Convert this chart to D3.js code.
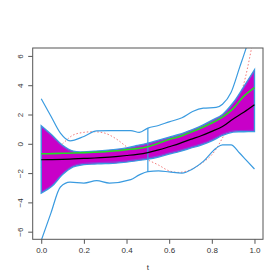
<!DOCTYPE html>
<html>
<head>
<meta charset="utf-8">
<script src="https://cdn.jsdelivr.net/npm/d3@7"></script>
<style>
  body { margin: 0; background: #fff; }
  text { font-family: "Liberation Sans", Arial, sans-serif; fill: #333; }
</style>
</head>
<body>
<div id="chart"></div>
<script>
// grid for the smooth curves
var tGrid = [0, 0.05, 0.1, 0.15, 0.2, 0.25, 0.3, 0.35, 0.4, 0.45, 0.5,
             0.55, 0.6, 0.65, 0.7, 0.75, 0.8, 0.85, 0.9, 0.95, 1.0];

var truth = [-1.6, -0.7, 0.0, 0.6, 0.78, 0.82, 0.72, 0.35, -0.2, -0.7, -1.1,
             -1.45, -1.85, -1.95, -1.77, -1.35, -0.75, 0.4, 2.0, 4.1, 7.6];

var bandUpper = [1.23, 0.6, -0.1, -0.5, -0.55, -0.5, -0.45, -0.38, -0.28, -0.12, 0.05,
                 0.25, 0.45, 0.65, 0.92, 1.22, 1.6, 2.0, 2.8, 3.9, 5.05];
var bandLower = [-3.36, -2.9, -2.1, -1.58, -1.42, -1.38, -1.35, -1.32, -1.25, -1.15, -1.05,
                 -0.9, -0.7, -0.52, -0.3, -0.08, 0.2, 0.58, 0.8, 0.82, 0.84];

var meanGreen = [-0.68, -0.67, -0.65, -0.63, -0.6, -0.58, -0.54, -0.48, -0.4, -0.33, -0.2,
                 0.03, 0.3, 0.5, 0.78, 1.08, 1.42, 1.82, 2.4, 3.25, 3.84];
var meanBlack = [-1.09, -1.08, -1.06, -1.03, -1.0, -0.97, -0.93, -0.87, -0.8, -0.72, -0.6,
                 -0.42, -0.2, 0.03, 0.3, 0.55, 0.85, 1.18, 1.7, 2.15, 2.66];

// outer envelope, read on its own grid
var outerT = [0, 0.045, 0.09, 0.135, 0.2, 0.26, 0.32, 0.42, 0.46, 0.5, 0.55,
              0.6, 0.66, 0.71, 0.76, 0.82, 0.85, 0.89, 0.93, 0.96, 1.0];
var outerUpper = [3.07, 1.9, 0.73, 0.2, 0.5, 0.88, 0.9, 0.9, 0.78, 1.07, 1.25,
                  1.5, 1.78, 2.2, 2.43, 2.48, 2.7, 3.5, 5.2, 6.5, 8.5];
var outerLower = [-6.6, -4.75, -2.95, -2.62, -2.68, -2.52, -2.68, -2.45, -2.12, -1.9, -1.85,
                  -1.92, -2.0, -1.72, -1.2, -0.3, -0.07, -0.07, -0.63, -1.1, -1.72];
var splitAt = 0.5;

var xTicks = [0, 0.2, 0.4, 0.6, 0.8, 1.0];
var yTicks = [-6, -4, -2, 0, 2, 4, 6];

var width = 280, height = 280;
var pLeft = 32.7, pRight = 263, pTop = 48, pBottom = 239.3;

var svg = d3.select("#chart").append("svg")
    .attr("width", width)
    .attr("height", height);

var x = d3.scaleLinear().domain([-0.04, 1.04]).range([pLeft, pRight]);
var y = d3.scaleLinear().domain([-6.52, 6.54]).range([pBottom, pTop]);

svg.append("clipPath").attr("id", "clip")
  .append("rect")
    .attr("x", pLeft).attr("y", pTop)
    .attr("width", pRight - pLeft).attr("height", pBottom - pTop);

var plot = svg.append("g").attr("clip-path", "url(#clip)");

function pairs(ts, vs) {
  return ts.map(function(t, i) { return [t, vs[i]]; });
}

var line = d3.line()
    .x(function(d) { return x(d[0]); })
    .y(function(d) { return y(d[1]); })
    .curve(d3.curveCatmullRom);

var lineMono = d3.line()
    .x(function(d) { return x(d[0]); })
    .y(function(d) { return y(d[1]); })
    .curve(d3.curveMonotoneX);

// true curve, under the band
plot.append("path")
    .attr("d", line(pairs(tGrid, truth)))
    .attr("fill", "none")
    .attr("stroke", "#f26b6b")
    .attr("stroke-width", 0.9)
    .attr("stroke-dasharray", "1.5,2");

var area = d3.area()
    .x(function(d) { return x(d.t); })
    .y0(function(d) { return y(d.lo); })
    .y1(function(d) { return y(d.hi); })
    .curve(d3.curveCatmullRom);

var bandData = tGrid.map(function(t, i) { return {t: t, lo: bandLower[i], hi: bandUpper[i]}; });

plot.append("path")
    .attr("d", area(bandData))
    .attr("fill", "#c800c8")
    .attr("stroke", "#3a9be0")
    .attr("stroke-width", 1.4);

plot.append("path")
    .attr("d", line(pairs(tGrid, bandUpper)))
    .attr("fill", "none")
    .attr("stroke", "#7a50d8")
    .attr("stroke-width", 0.8)
    .attr("transform", "translate(0,1.3)");

plot.append("path")
    .attr("d", line(pairs(tGrid, bandLower)))
    .attr("fill", "none")
    .attr("stroke", "#7a50d8")
    .attr("stroke-width", 0.8)
    .attr("transform", "translate(0,-1.3)");

// outer envelope
plot.append("path")
    .attr("d", lineMono(pairs(outerT, outerUpper)))
    .attr("fill", "none")
    .attr("stroke", "#3a9be0")
    .attr("stroke-width", 1.2);

plot.append("path")
    .attr("d", lineMono(pairs(outerT, outerLower)))
    .attr("fill", "none")
    .attr("stroke", "#3a9be0")
    .attr("stroke-width", 1.2);

var si = outerT.indexOf(splitAt);
plot.append("line")
    .attr("x1", x(splitAt)).attr("x2", x(splitAt))
    .attr("y1", y(outerUpper[si])).attr("y2", y(outerLower[si]))
    .attr("stroke", "#3a9be0")
    .attr("stroke-width", 1.2);

plot.append("path")
    .attr("d", line(pairs(tGrid, meanGreen)))
    .attr("fill", "none")
    .attr("stroke", "#22e022")
    .attr("stroke-width", 1.6);

plot.append("path")
    .attr("d", line(pairs(tGrid, meanBlack)))
    .attr("fill", "none")
    .attr("stroke", "#000")
    .attr("stroke-width", 1.2);

// box
svg.append("rect")
    .attr("x", pLeft).attr("y", pTop)
    .attr("width", pRight - pLeft).attr("height", pBottom - pTop)
    .attr("fill", "none")
    .attr("stroke", "#555")
    .attr("stroke-width", 1);

// axes
var xAxis = svg.append("g")
    .attr("transform", "translate(0," + pBottom + ")")
    .call(d3.axisBottom(x).tickValues(xTicks).tickFormat(d3.format(".1f")).tickSize(4.5).tickPadding(4));

var yAxis = svg.append("g")
    .attr("transform", "translate(" + pLeft + ",0)")
    .call(d3.axisLeft(y).tickValues(yTicks).tickFormat(d3.format("d")).tickSize(4.5).tickPadding(4));

// R draws the axis line only between the outer ticks
xAxis.select(".domain").remove();
yAxis.select(".domain").remove();
svg.selectAll(".tick line").attr("stroke", "#555");
svg.selectAll(".tick text")
    .attr("font-size", 8)
    .attr("font-family", "Liberation Sans, Arial, sans-serif")
    .attr("fill", "#333");

yAxis.selectAll(".tick text")
    .attr("text-anchor", "middle")
    .attr("x", 0).attr("y", 0).attr("dy", 0)
    .attr("transform", "translate(-10,0) rotate(-90)");

svg.append("text")
    .attr("x", (x(0) + x(1)) / 2)
    .attr("y", 270)
    .attr("text-anchor", "middle")
    .attr("font-size", 8)
    .text("t");
</script>
</body>
</html>
